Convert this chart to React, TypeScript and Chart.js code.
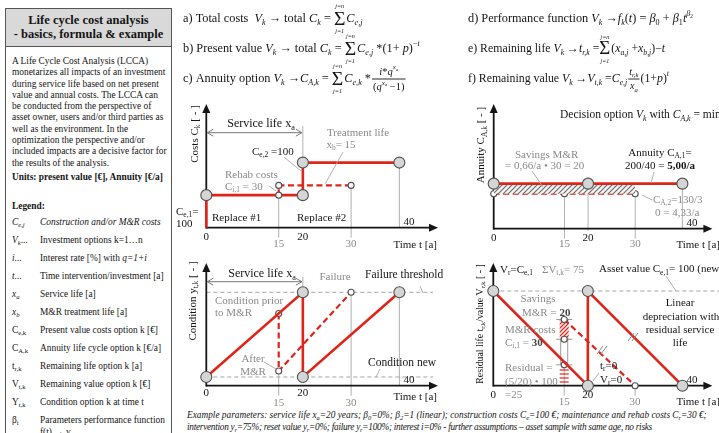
import React, { useEffect, useRef } from 'react';
import { Chart, registerables } from 'chart.js';

Chart.register(...registerables);

// ---------------- data ----------------
const costTimes = [0, 0, 15, 20, 20, 40];
const costValues = [0, 100, 100, 100, 200, 200];
const rehabTimes = [15, 15, 30];
const rehabValues = [100, 130, 130];

const annuityTimes = [0, 20, 40];
const annuityValues = [5.0, 5.0, 5.0];
const annuityAltTimes = [0, 15, 30];
const annuityAltValues = [4.33, 4.33, 4.33];

const conditionTimes = [0, 20, 20, 40];
const conditionValues = [0, 100, 0, 100];
const conditionAltTimes = [15, 15, 30];
const conditionAltValues = [75, 7, 100];
const conditionLevels = [0, 100];

const residualTimes = [0, 20, 20, 40];
const residualValues = [100, 0, 100, 0];
const residualAltTimes = [15, 30];
const residualAltValues = [70, 0];
const residualStackTime = 15;
const residualStackValues = [0, 22, 49, 70];
const assetValueLevel = 100;

const timeTicks = [0, 15, 20, 30, 40];
const timeTickMain = [true, false, true, false, true];

// ---------------- styles ----------------
const SERIF = '"Liberation Serif", "Times New Roman", Times, serif';
const RED = '#df2419';
const GUIDE = '#a8a8a8';
const GREY = '#8a8a8a';
const INK = '#151515';
const BIG_FILL = '#d5d5d5';
const PT_BORDER = '#505050';
const BIG = 5.5;
const SMALL = 3;

type Seg = string | { t: string; sub?: boolean; sup?: boolean; b?: boolean; i?: boolean; c?: string };
const sb = (t: string): Seg => ({ t, sub: true });

function rich(ctx: CanvasRenderingContext2D, segs: Seg[], x: number, y: number, size: number, color: string, align: string = 'left') {
  const items = segs.map((s) => (typeof s === 'string' ? { t: s } : s)) as any[];
  const fontOf = (s: any) => `${s.i ? 'italic ' : ''}${s.b ? 'bold ' : ''}${s.sub || s.sup ? size * 0.68 : size}px ${SERIF}`;
  let total = 0;
  const widths = items.map((s) => {
    ctx.font = fontOf(s);
    const w = ctx.measureText(s.t).width;
    total += w;
    return w;
  });
  let cx = align === 'left' ? x : align === 'center' ? x - total / 2 : x - total;
  ctx.textBaseline = 'middle';
  ctx.textAlign = 'left';
  items.forEach((s, k) => {
    ctx.font = fontOf(s);
    ctx.fillStyle = s.c || color;
    const dy = s.sub ? size * 0.32 : s.sup ? -size * 0.38 : 0;
    ctx.fillText(s.t, cx, y + dy);
    cx += widths[k];
  });
}

function richV(ctx: CanvasRenderingContext2D, segs: Seg[], x: number, y: number, size: number, color: string) {
  ctx.save();
  ctx.translate(x, y);
  ctx.rotate(-Math.PI / 2);
  rich(ctx, segs, 0, 0, size, color, 'center');
  ctx.restore();
}

function seg(ctx: CanvasRenderingContext2D, pts: number[][], color: string, width: number, dash: number[] = []) {
  ctx.save();
  ctx.strokeStyle = color;
  ctx.lineWidth = width;
  ctx.setLineDash(dash);
  ctx.beginPath();
  pts.forEach(([x, y], k) => (k ? ctx.lineTo(x, y) : ctx.moveTo(x, y)));
  ctx.stroke();
  ctx.restore();
}

// ---- tiny math typesetter for the formula lines ----
type Tok = string | { t?: string; i?: boolean; b?: boolean; sub?: Tok[]; sup?: Tok[]; sum?: boolean; frac?: Tok[][] };
const It = (t: string): Tok => ({ t, i: true });
const Sb = (...t: Tok[]): Tok => ({ sub: t });
const Sp = (...t: Tok[]): Tok => ({ sup: t });
const SUM: Tok = { sum: true };
const Vk: Tok[] = [It('V'), Sb(It('k'))];

function typeset(ctx: CanvasRenderingContext2D, toks: Tok[], x: number, y: number, size: number, draw: boolean): number {
  let cx = x;
  ctx.textBaseline = 'middle';
  ctx.textAlign = 'left';
  for (const raw of toks) {
    const tk: any = typeof raw === 'string' ? { t: raw } : raw;
    if (tk.t !== undefined) {
      ctx.font = `${tk.i ? 'italic ' : ''}${tk.b ? 'bold ' : ''}${size}px ${SERIF}`;
      const w = ctx.measureText(tk.t).width;
      if (draw) ctx.fillText(tk.t, cx, y);
      cx += w;
    } else if (tk.sub) {
      cx += typeset(ctx, tk.sub, cx, y + size * 0.3, size * 0.66, draw);
    } else if (tk.sup) {
      cx += typeset(ctx, tk.sup, cx, y - size * 0.42, size * 0.66, draw);
    } else if (tk.sum) {
      const s = size * 1.6;
      ctx.font = `${s}px ${SERIF}`;
      const w = ctx.measureText('\u03A3').width;
      if (draw) {
        ctx.fillText('\u03A3', cx, y + 0.5);
        ctx.font = `italic ${size * 0.5}px ${SERIF}`;
        ctx.textAlign = 'center';
        ctx.fillText('j=n', cx + w / 2, y - size * 1.0);
        ctx.fillText('j=1', cx + w / 2, y + size * 1.02);
        ctx.textAlign = 'left';
      }
      cx += w + 1;
    } else if (tk.frac) {
      const fs = size * 0.86;
      const wn = typeset(ctx, tk.frac[0], 0, 0, fs, false);
      const wd = typeset(ctx, tk.frac[1], 0, 0, fs, false);
      const w = Math.max(wn, wd) + 4;
      if (draw) {
        typeset(ctx, tk.frac[0], cx + (w - wn) / 2, y - size * 0.58, fs, true);
        typeset(ctx, tk.frac[1], cx + (w - wd) / 2, y + size * 0.66, fs, true);
        seg(ctx, [[cx + 1, y], [cx + w - 1, y]], INK, 0.9);
      }
      cx += w;
    }
  }
  return cx - x;
}

const formulaLeft: Tok[][] = [
  ['a) Total costs  ', ...Vk, ' \u2192 total ', It('C'), Sb(It('k')), ' = ', SUM, It('C'), Sb(It('e,j'))],
  ['b) Present value ', ...Vk, ' \u2192 total ', It('C'), Sb(It('k')), ' = ', SUM, It('C'), Sb(It('e,j')), ' *(1+ ', It('p'), ')', Sp('\u2212', It('t'))],
  ['c) Annuity option ', ...Vk, ' \u2192', It('C'), Sb(It('A,k')), ' = ', SUM, It('C'), Sb(It('e,k')), ' *',
    { frac: [[It('i'), '*', It('q'), Sp(It('x'), Sb(It('a')))], ['(', It('q'), Sp(It('x'), Sb(It('a'))), ' \u22121)']] }],
];
const formulaRight: Tok[][] = [
  ['d) Performance function ', ...Vk, ' \u2192', It('f'), Sb(It('k')), '(', It('t'), ') = ', It('\u03B2'), Sb('0'), ' + ', It('\u03B2'), Sb('1'), It('t'), Sp(It('\u03B2'), Sb('2'))],
  ['e) Remaining life ', ...Vk, ' \u2192', It('t'), Sb(It('r,k')), ' =', SUM, '(', It('x'), Sb(It('a,j')), ' +', It('x'), Sb(It('b,j')), ')\u2212', It('t')],
  ['f) Remaining value ', ...Vk, ' \u2192', It('V'), Sb(It('t,k')), ' =', It('C'), Sb(It('e,j')),
    { frac: [[It('t'), Sb(It('r,k'))], [It('x'), Sb(It('a'))]] }, '(1+', It('p'), ')', Sp(It('t'))],
];
const formulaRows = [19, 49, 79];
const formulaSizesLeft = [12.3, 12.3, 12.3];
const formulaSizesRight = [12.3, 11.8, 11.8];

function drawFormulas(ctx: CanvasRenderingContext2D, lines: Tok[][], x: number, sizes: number[]) {
  ctx.fillStyle = INK;
  lines.forEach((l, k) => typeset(ctx, l, x, formulaRows[k], sizes[k], true));
}

function head(ctx: CanvasRenderingContext2D, x: number, y: number, dir: string, len: number, half: number, color: string, filled = true) {
  ctx.save();
  ctx.fillStyle = color;
  ctx.strokeStyle = color;
  ctx.lineWidth = 1;
  ctx.beginPath();
  if (dir === 'right') { ctx.moveTo(x, y); ctx.lineTo(x - len, y - half); ctx.moveTo(x, y); ctx.lineTo(x - len, y + half); if (filled) { ctx.lineTo(x - len, y - half); ctx.closePath(); } }
  if (dir === 'left') { ctx.moveTo(x, y); ctx.lineTo(x + len, y - half); ctx.moveTo(x, y); ctx.lineTo(x + len, y + half); if (filled) { ctx.lineTo(x + len, y - half); ctx.closePath(); } }
  if (dir === 'up') { ctx.moveTo(x, y); ctx.lineTo(x - half, y + len); ctx.lineTo(x + half, y + len); ctx.closePath(); }
  if (filled) ctx.fill(); else ctx.stroke();
  ctx.restore();
}

function dblArrow(ctx: CanvasRenderingContext2D, x1: number, x2: number, y: number, color: string) {
  seg(ctx, [[x1, y], [x2, y]], color, 1);
  head(ctx, x1, y, 'left', 6, 3.5, color, false);
  head(ctx, x2, y, 'right', 6, 3.5, color, false);
}

function slashes(ctx: CanvasRenderingContext2D, x: number, y: number) {
  seg(ctx, [[x - 5, y + 4], [x + 1, y - 4]], '#8a8a8a', 1);
  seg(ctx, [[x - 1, y + 4], [x + 5, y - 4]], '#8a8a8a', 1);
}

function drawAxes(ctx: CanvasRenderingContext2D, h: any) {
  const { area } = h;
  seg(ctx, [[area.left, area.bottom], [area.right - 7, area.bottom]], INK, 1.8);
  seg(ctx, [[area.left, area.bottom + 0.9], [area.left, area.top + 7]], INK, 1.8);
  head(ctx, area.right, area.bottom, 'right', 9, 4, INK);
  head(ctx, area.left, area.top, 'up', 9, 4, INK);
}

function drawTimeLabels(ctx: CanvasRenderingContext2D, h: any, majorDy: number, minorDy: number, timeDy: number) {
  const last = timeTicks[timeTicks.length - 1];
  timeTicks.forEach((t, k) => {
    if (t === last) return;
    if (timeTickMain[k]) rich(ctx, [String(t)], h.X(t), h.area.bottom + majorDy, 11, INK, 'center');
    else rich(ctx, [String(t)], h.X(t), h.area.bottom + minorDy, 11, GREY, 'center');
  });
  rich(ctx, [String(last)], h.X(last) + 4, h.area.bottom - 5.5, 11, INK, 'left');
  rich(ctx, ['Time t [a]'], h.X(last) - 6, h.area.bottom + timeDy, 11, INK, 'left');
}

function makePattern(color: string, bg: string | null, size: number, width: number, dir: string) {
  const c = document.createElement('canvas');
  c.width = size;
  c.height = size;
  const g = c.getContext('2d')!;
  if (bg) { g.fillStyle = bg; g.fillRect(0, 0, size, size); }
  g.strokeStyle = color;
  g.lineWidth = width;
  g.beginPath();
  if (dir === 'diag') {
    g.moveTo(0, size); g.lineTo(size, 0);
    g.moveTo(-2, 2); g.lineTo(2, -2);
    g.moveTo(size - 2, size + 2); g.lineTo(size + 2, size - 2);
  } else {
    g.moveTo(0, size / 2); g.lineTo(size, size / 2);
  }
  g.stroke();
  return g.createPattern(c, 'repeat')!;
}

// ---------------- chart plumbing ----------------
function helpers(chart: any, ox: number, oy: number) {
  const xs = chart.scales.x, ys = chart.scales.y, a = chart.chartArea;
  return {
    X: (v: number) => xs.getPixelForValue(v) + ox,
    Y: (v: number) => ys.getPixelForValue(v) + oy,
    area: { left: a.left + ox, right: a.right + ox, top: a.top + oy, bottom: a.bottom + oy },
  };
}

function overlay(ox: number, oy: number, under: any, over: any) {
  return {
    id: 'overlay',
    beforeDatasetsDraw(chart: any) {
      const ctx = chart.ctx; ctx.save(); ctx.translate(-ox, -oy); under(ctx, helpers(chart, ox, oy)); ctx.restore();
    },
    afterDatasetsDraw(chart: any) {
      const ctx = chart.ctx; ctx.save(); ctx.translate(-ox, -oy); over(ctx, helpers(chart, ox, oy)); ctx.restore();
    },
  };
}

function lineDs(times: number[], values: number[], opts: any) {
  return {
    data: times.map((x, k) => ({ x, y: values[k] })),
    borderColor: RED, borderWidth: 2.6, tension: 0, fill: false, clip: false,
    pointBorderColor: PT_BORDER, pointBorderWidth: 1.1, pointHoverRadius: 0,
    ...opts,
  };
}

function config(box: any, xMax: number, yMin: number, yMax: number, datasets: any[], under: any, over: any) {
  return {
    type: 'line',
    data: { datasets },
    options: {
      responsive: false, animation: false, events: [],
      layout: { padding: box.pad },
      plugins: { legend: { display: false }, tooltip: { enabled: false } },
      scales: {
        x: { type: 'linear', min: 0, max: xMax, display: false },
        y: { type: 'linear', min: yMin, max: yMax, display: false },
      },
    },
    plugins: [overlay(box.left, box.top, under, over)],
  };
}

const boxA = { left: 174, top: 0, width: 286, height: 250, pad: { left: 32.3, top: 104, right: 22, bottom: 22.3 } };
const boxB = { left: 462, top: 0, width: 257, height: 250, pad: { left: 31.7, top: 104, right: 0, bottom: 21.3 } };
const boxC = { left: 174, top: 252, width: 286, height: 154, pad: { left: 32.3, top: 11, right: 22, bottom: 20.3 } };
const boxD = { left: 462, top: 252, width: 257, height: 154, pad: { left: 31.3, top: 11, right: 0, bottom: 20.3 } };

// ---- Chart A: costs ----
function buildCosts() {
  const datasets = [
    lineDs(costTimes, costValues, {
      pointRadius: [0, BIG, SMALL, BIG, BIG, BIG],
      pointBackgroundColor: [BIG_FILL, BIG_FILL, '#fff', BIG_FILL, BIG_FILL, BIG_FILL],
    }),
    lineDs(rehabTimes, rehabValues, { borderDash: [6, 3.5], borderWidth: 2.2, pointRadius: [0, SMALL, SMALL], pointBackgroundColor: '#fff' }),
  ];
  const under = (ctx: any, h: any) => {
    const { X, Y, area } = h;
    seg(ctx, [[X(rehabTimes[0]), Y(rehabValues[0])], [X(rehabTimes[0]), area.bottom + 10]], GUIDE, 0.9);
    seg(ctx, [[X(rehabTimes[2]), Y(rehabValues[2])], [X(rehabTimes[2]), area.bottom + 10]], GUIDE, 0.9);
    seg(ctx, [[X(costTimes[5]), Y(costValues[5])], [X(costTimes[5]), area.bottom]], GUIDE, 0.9);
    seg(ctx, [[X(costTimes[3]), 126], [X(costTimes[3]), Y(costValues[4])]], GUIDE, 0.9);
    drawAxes(ctx, h);
  };
  const over = (ctx: any, h: any) => {
    const { X } = h;
    drawFormulas(ctx, formulaLeft, 183, formulaSizesLeft);
    richV(ctx, ['Costs C', sb('k'), ' [ - ]'], 195, 134, 11, INK);
    dblArrow(ctx, X(0) + 1, X(20) - 1, 132.7, '#777');
    rich(ctx, ['Service life x', sb('a')], 261, 124, 12, INK, 'center');
    rich(ctx, ['Treatment life'], 358, 133, 11, GREY, 'center');
    rich(ctx, ['x', sb('b'), '= 15'], 341, 145, 11, GREY, 'center');
    seg(ctx, [[343, 152], [325, 184]], GUIDE, 0.9);
    rich(ctx, ['C', sb('e,2'), ' =100'], 252, 152, 11, INK, 'left');
    seg(ctx, [[284, 157], [301, 171]], GUIDE, 0.9);
    rich(ctx, ['Rehab costs'], 225, 175, 11, GREY, 'left');
    rich(ctx, ['C', sb('i,1'), ' = 30'], 225, 187, 11, GREY, 'left');
    seg(ctx, [[269, 186], [276, 191]], GUIDE, 0.9);
    rich(ctx, ['C', sb('e,1'), '='], 176, 212, 11, INK, 'left');
    rich(ctx, ['100'], 176, 224, 11, INK, 'left');
    rich(ctx, ['Replace #1'], 212, 217.7, 11, INK, 'left');
    rich(ctx, ['Replace #2'], 297, 217.7, 11, INK, 'left');
    drawTimeLabels(ctx, h, 9, 16.3, 17.3);
  };
  return config(boxA, 48, 0, 380, datasets, under, over);
}

// ---- Chart B: annuity ----
function buildAnnuity() {
  const hatch = makePattern('#6a6a6a', '#f4f4f4', 5, 1.1, 'diag');
  const datasets = [
    lineDs(annuityTimes, annuityValues, { pointRadius: BIG, pointBackgroundColor: BIG_FILL }),
    {
      data: [
        { x: annuityAltTimes[0], y: annuityValues[0] },
        { x: annuityAltTimes[annuityAltTimes.length - 1], y: annuityValues[0] },
      ],
      borderWidth: 0, pointRadius: 0, fill: 2, backgroundColor: hatch, clip: false,
    },
    lineDs(annuityAltTimes, annuityAltValues, { borderDash: [6, 3.5], borderWidth: 2.2, pointRadius: SMALL, pointBackgroundColor: '#fff' }),
  ];
  const under = (ctx: any, h: any) => {
    const { X, Y, area } = h;
    seg(ctx, [[X(annuityAltTimes[1]), Y(annuityAltValues[1])], [X(annuityAltTimes[1]), area.bottom + 10]], GUIDE, 0.9);
    seg(ctx, [[X(annuityAltTimes[2]), Y(annuityAltValues[2])], [X(annuityAltTimes[2]), area.bottom + 10]], GUIDE, 0.9);
    seg(ctx, [[X(annuityTimes[1]), Y(annuityValues[1])], [X(annuityTimes[1]), area.bottom + 2]], GUIDE, 0.9);
    seg(ctx, [[X(annuityTimes[2]), Y(annuityValues[2])], [X(annuityTimes[2]), area.bottom]], GUIDE, 0.9);
    drawAxes(ctx, h);
  };
  const over = (ctx: any, h: any) => {
    drawFormulas(ctx, formulaRight, 468, formulaSizesRight);
    richV(ctx, ['Annuity C', sb('A,k'), ' [ - ]'], 481.5, 145, 11, INK);
    rich(ctx, ['Decision option ', { t: 'V', i: true }, { t: 'k', sub: true, i: true }, ' with ', { t: 'C', i: true }, { t: 'A,k', sub: true, i: true }, ' = min'], 560, 115, 11.5, INK, 'left');
    rich(ctx, ['Savings M&R'], 515, 155, 11, GREY, 'left');
    rich(ctx, ['= 0,66/a \u2022 30 = 20'], 505, 166, 11, GREY, 'left');
    seg(ctx, [[532, 171], [543, 187]], GUIDE, 0.9);
    rich(ctx, ['Annuity C', sb('A,1'), '='], 660, 153, 11, INK, 'center');
    rich(ctx, ['200/40 = ', { t: '5,00/a', b: true }], 660, 166, 11, INK, 'center');
    seg(ctx, [[654, 172], [651, 183]], GUIDE, 0.9);
    rich(ctx, ['C', sb('A,2'), '=130/3'], 653, 200, 11, GREY, 'left');
    rich(ctx, ['0 = 4,33/a'], 655, 213, 11, GREY, 'left');
    seg(ctx, [[642, 195], [652, 200]], GUIDE, 0.9);
    drawTimeLabels(ctx, h, 9, 15.5, 16.3);
  };
  return config(boxB, 46.36, 2, 10.3, datasets, under, over);
}

// ---- Chart C: condition ----
function buildCondition() {
  const datasets = [
    lineDs(conditionTimes, conditionValues, { pointRadius: BIG, pointBackgroundColor: BIG_FILL }),
    lineDs(conditionAltTimes, conditionAltValues, { borderDash: [6, 3.5], borderWidth: 2.2, pointRadius: SMALL, pointBackgroundColor: '#fff' }),
  ];
  const under = (ctx: any, h: any) => {
    const { X, Y, area } = h;
    conditionLevels.forEach((lv) => seg(ctx, [[X(0), Y(lv)], [433, Y(lv)]], '#9a9a9a', 0.9, [4, 3]));
    seg(ctx, [[X(conditionAltTimes[1]), Y(conditionAltValues[1])], [X(conditionAltTimes[1]), area.bottom + 10]], GUIDE, 0.9);
    seg(ctx, [[X(conditionAltTimes[2]), Y(conditionAltValues[2])], [X(conditionAltTimes[2]), area.bottom + 10]], GUIDE, 0.9);
    seg(ctx, [[X(conditionTimes[3]), Y(conditionValues[3])], [X(conditionTimes[3]), area.bottom]], GUIDE, 0.9);
    seg(ctx, [[X(conditionTimes[1]), 277], [X(conditionTimes[1]), Y(conditionValues[1])]], GUIDE, 0.9);
    drawAxes(ctx, h);
  };
  const over = (ctx: any, h: any) => {
    const { X } = h;
    richV(ctx, ['Condition y', sb('t,k'), ' [ - ]'], 192.7, 301, 11, INK);
    dblArrow(ctx, X(0) + 1, X(20) - 1, 281.7, '#777');
    rich(ctx, ['Service life x', sb('a')], 262, 274, 12, INK, 'center');
    rich(ctx, ['Failure'], 335, 276.7, 11, GREY, 'center');
    rich(ctx, ['Failure threshold'], 365, 275, 11.5, INK, 'left');
    seg(ctx, [[420, 286], [423, 293]], GUIDE, 0.9);
    rich(ctx, ['Condition prior'], 215, 301, 11, GREY, 'left');
    rich(ctx, ['to M&R'], 215, 313.3, 11, GREY, 'left');
    rich(ctx, ['After'], 253, 359, 11, GREY, 'center');
    rich(ctx, ['M&R'], 253, 371.7, 11, GREY, 'center');
    seg(ctx, [[264, 362], [276, 369]], GUIDE, 0.9);
    rich(ctx, ['Condition new'], 368, 363.3, 11.5, INK, 'left');
    seg(ctx, [[380, 369], [376, 377]], GUIDE, 0.9);
    drawTimeLabels(ctx, h, 7.6, 17, 11.6);
  };
  return config(boxC, 48, -10.3, 134.6, datasets, under, over);
}

// ---- Chart D: residual ----
function buildResidual() {
  const redDiag = makePattern(RED, '#fbe3e1', 4, 1.2, 'diag');
  const redHoriz = makePattern(RED, null, 4, 1.2, 'horiz');
  const datasets = [
    lineDs(residualTimes, residualValues, { pointRadius: BIG, pointBackgroundColor: BIG_FILL }),
    lineDs(residualAltTimes, residualAltValues, { borderDash: [6, 3.5], borderWidth: 2.2, pointRadius: SMALL, pointBackgroundColor: '#fff' }),
    lineDs(residualStackValues.slice(1, 3).map(() => residualStackTime), residualStackValues.slice(1, 3), {
      showLine: false, pointRadius: SMALL, pointBackgroundColor: '#fff',
    }),
  ];
  const under = (ctx: any, h: any) => {
    const { X, Y, area } = h;
    seg(ctx, [[X(0), Y(assetValueLevel)], [719, Y(assetValueLevel)]], '#9a9a9a', 0.9, [4, 3]);
    const xc = X(residualStackTime);
    seg(ctx, [[xc, Y(residualStackValues[3])], [xc, area.bottom + 10]], GUIDE, 0.9);
    seg(ctx, [[X(residualAltTimes[1]), Y(residualAltValues[1])], [X(residualAltTimes[1]), area.bottom + 10]], GUIDE, 0.9);
    const w = 4.5;
    ctx.fillStyle = redHoriz;
    ctx.fillRect(xc - w, Y(residualStackValues[1]) + 4, 2 * w, Y(residualStackValues[0]) - Y(residualStackValues[1]) - 4);
    ctx.fillStyle = '#fff';
    ctx.fillRect(xc - w, Y(residualStackValues[2]), 2 * w, Y(residualStackValues[1]) - Y(residualStackValues[2]));
    seg(ctx, [[xc - w + 1, Y(residualStackValues[2])], [xc - w + 1, Y(residualStackValues[1])]], '#9a9a9a', 1);
    seg(ctx, [[xc + w - 1, Y(residualStackValues[2])], [xc + w - 1, Y(residualStackValues[1])]], '#9a9a9a', 1);
    ctx.fillStyle = redDiag;
    ctx.fillRect(xc - w, Y(residualStackValues[3]), 2 * w, Y(residualStackValues[2]) - Y(residualStackValues[3]));
    residualStackValues.slice(1).forEach((v) => seg(ctx, [[xc - 8, Y(v)], [xc + 8, Y(v)]], '#8a8a8a', 0.9));
    drawAxes(ctx, h);
  };
  const over = (ctx: any, h: any) => {
    richV(ctx, ['Residual life t', sb('r,k'), '/value V', sb('r,k'), ' [ - ]'], 480.5, 324, 9.8, INK);
    rich(ctx, ['V', sb('r'), '=C', sb('e,1')], 500, 270, 11, INK, 'left');
    rich(ctx, ['\u03A3V', sb('t,k'), '= 75'], 542, 270, 11, GREY, 'left');
    rich(ctx, ['Asset value C', sb('e,1'), '= 100 (new)'], 599, 269.3, 11, INK, 'left');
    seg(ctx, [[666, 276], [676, 291]], GUIDE, 0.9);
    rich(ctx, ['Savings'], 538, 299, 11, GREY, 'center');
    rich(ctx, ['M&R = ', { t: '20', b: true, c: '#444' }], 522, 312.7, 11, GREY, 'left');
    rich(ctx, ['M&R costs'], 505, 330, 11, GREY, 'left');
    rich(ctx, ['C', sb('i,1'), ' = ', { t: '30', b: true, c: '#444' }], 505, 342.7, 11, GREY, 'left');
    rich(ctx, ['Residual ='], 505, 368.3, 11, GREY, 'left');
    rich(ctx, ['(5/20) \u2022 100'], 505, 381.7, 11, GREY, 'left');
    rich(ctx, ['=25'], 505, 395, 11, GREY, 'left');
    rich(ctx, ['Linear'], 680, 303, 11, INK, 'center');
    rich(ctx, ['depreciation with'], 681, 316.7, 11, INK, 'center');
    rich(ctx, ['residual service'], 680, 330, 11, INK, 'center');
    rich(ctx, ['life'], 680, 343.3, 11, INK, 'center');
    rich(ctx, ['t', sb('r'), '=0'], 600, 366, 11, INK, 'left');
    rich(ctx, ['V', sb('r'), '=0'], 600, 380, 11, INK, 'left');
    seg(ctx, [[599, 373], [593, 381]], GUIDE, 0.9);
    slashes(ctx, 602, 350);
    slashes(ctx, 633, 337);
    drawTimeLabels(ctx, h, 9.3, 16, 16.3);
  };
  return config(boxD, 46.35, 0, 129.6, datasets, under, over);
}

function ChartBox({ box, build }: any) {
  const ref = useRef<HTMLCanvasElement>(null);
  useEffect(() => {
    const chart = new Chart(ref.current as HTMLCanvasElement, build() as any);
    return () => chart.destroy();
  }, []);
  return (
    <canvas ref={ref} width={box.width} height={box.height}
      style={{ position: 'absolute', left: box.left, top: box.top, width: box.width, height: box.height }} />
  );
}

// ---------------- HTML text parts ----------------
const paragraph = [
  'A Life Cycle Cost Analysis (LCCA)',
  'monetarizes all impacts of an investment',
  'during service life based on net present',
  'value and annual costs. The LCCA can',
  'be conducted from the perspective of',
  'asset owner, users and/or third parties as',
  'well as the environment. In the',
  'optimization the perspective and/or',
  'included impacts are a decisive factor for',
  'the results of the analysis.',
];

const S = ({ children }: any) => <sub style={{ fontSize: '0.7em', verticalAlign: '-0.25em', lineHeight: 0 }}>{children}</sub>;

const legendRows: any[] = [
  [<><i>C</i><S><i>e,j</i></S></>, <i>Construction and/or M&amp;R costs</i>],
  [<><i>V</i><S><i>k</i></S><span>...</span></>, <>Investment options k=1…n</>],
  [<><i>i</i>...</>, <>Interest rate [%] with <i>q=1+i</i></>],
  [<><i>t</i>...</>, <>Time intervention/investment [a]</>],
  [<><i>x</i><S><i>a</i></S></>, <>Service life [a]</>],
  [<><i>x</i><S><i>b</i></S></>, <>M&amp;R treatment life [a]</>],
  [<>C<S>e,k</S></>, <>Present value costs option k [€]</>],
  [<>C<S>A,k</S></>, <>Annuity life cycle option k [€/a]</>],
  [<>t<S>r,k</S></>, <>Remaining life option k [a]</>],
  [<>V<S>t,k</S></>, <>Remaining value option k [€]</>],
  [<>Y<S>t,k</S></>, <>Condition option k at time t</>],
  [<>β<S>i</S></>, <>Parameters performance function</>],
];

function LeftPanel() {
  const fs = 9.4;
  return (
    <>
      <div style={{ position: 'absolute', left: 5, top: 8, width: 167, height: 460, border: '1.3px solid #555', boxSizing: 'border-box' }}>
        <div style={{ height: 38, background: '#d9d9d9', borderBottom: '1.3px solid #555', boxSizing: 'border-box', textAlign: 'center', fontWeight: 'bold', fontSize: 12.5, lineHeight: '14px', paddingTop: 4 }}>
          Life cycle cost analysis<br />- basics, formula &amp; example
        </div>
      </div>
      <div style={{ position: 'absolute', left: 12, top: 56, fontSize: fs, lineHeight: '11.3px', whiteSpace: 'nowrap' }}>
        {paragraph.map((l, k) => <div key={k}>{l}</div>)}
      </div>
      <div style={{ position: 'absolute', left: 12, top: 170, fontSize: fs, lineHeight: '14px', fontWeight: 'bold', whiteSpace: 'nowrap' }}>
        Units: present value [€], Annuity [€/a]
      </div>
      <div style={{ position: 'absolute', left: 12, top: 199, fontSize: fs, lineHeight: '14px', fontWeight: 'bold' }}>Legend:</div>
      {legendRows.map((r, k) => (
        <React.Fragment key={k}>
          <div style={{ position: 'absolute', left: 12, top: 215 + k * 18, fontSize: fs, lineHeight: '14px', whiteSpace: 'nowrap' }}>{r[0]}</div>
          <div style={{ position: 'absolute', left: 40, top: 215 + k * 18, fontSize: fs, lineHeight: '14px', whiteSpace: 'nowrap' }}>{r[1]}</div>
        </React.Fragment>
      ))}
      <div style={{ position: 'absolute', left: 40, top: 215 + 12 * 18 - 6, fontSize: fs, lineHeight: '14px', whiteSpace: 'nowrap' }}>
        f(t) → y<S>t,k</S>
      </div>
    </>
  );
}

function Footer() {
  const st: any = { position: 'absolute', left: 187, fontSize: 9.3, fontStyle: 'italic', whiteSpace: 'nowrap', lineHeight: '12px' };
  return (
    <>
      <div style={{ ...st, top: 409 }}>
        Example parameters: service life x<S>a</S>=20 years; β<S>0</S>=0%; β<S>2</S>=1 (linear); construction costs C<S>e</S>=100 €; maintenance and rehab costs C<S>r</S>=30 €;
      </div>
      <div style={{ ...st, top: 421, letterSpacing: '-0.28px' }}>
        intervention y<S>r</S>=75%; reset value y<S>r</S>=0%; failure y<S>r</S>=100%; interest i=0% - further assumptions – asset sample with same age, no risks
      </div>
    </>
  );
}

export default function App() {
  return (
    <div style={{ position: 'fixed', left: 0, top: 0, width: 719, height: 433, overflow: 'hidden', background: '#fff', fontFamily: SERIF, color: INK }}>
      <LeftPanel />
      <ChartBox box={boxA} build={buildCosts} />
      <ChartBox box={boxB} build={buildAnnuity} />
      <ChartBox box={boxC} build={buildCondition} />
      <ChartBox box={boxD} build={buildResidual} />
      <Footer />
    </div>
  );
}
